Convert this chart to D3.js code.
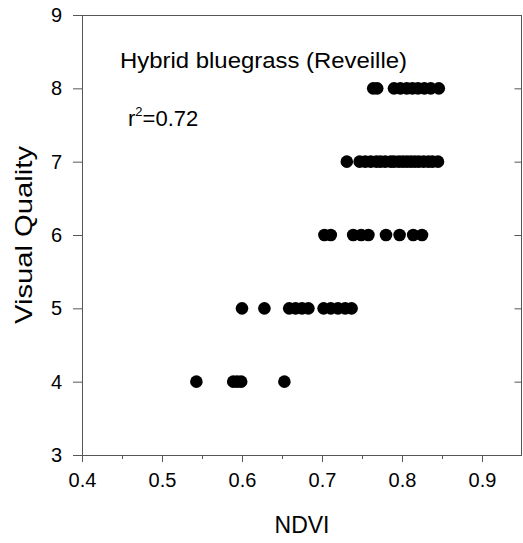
<!DOCTYPE html>
<html>
<head>
<meta charset="utf-8">
<script src="https://cdn.jsdelivr.net/npm/d3@7"></script>
<style>
  body { margin: 0; background: #fff; }
  svg text { font-family: "Liberation Sans", Arial, sans-serif; fill: #000; }
</style>
</head>
<body>
<div id="chart"></div>
<script>

// NDVI readings grouped by visual quality rating
var quality = [4, 5, 6, 7, 8];
var ndviQ4 = [0.543, 0.589, 0.594, 0.599, 0.653];
var ndviQ5 = [0.600, 0.628, 0.659, 0.667, 0.675, 0.683, 0.702, 0.711, 0.720, 0.729, 0.737];
var ndviQ6 = [0.703, 0.711, 0.739, 0.749, 0.758, 0.780, 0.797, 0.814, 0.825];
var ndviQ7 = [0.731, 0.747, 0.754, 0.761, 0.768, 0.773, 0.779, 0.786, 0.790, 0.796,
              0.801, 0.806, 0.811, 0.816, 0.821, 0.827, 0.833, 0.838, 0.845];
var ndviQ8 = [0.764, 0.769, 0.790, 0.798, 0.806, 0.813, 0.820, 0.828, 0.836, 0.846];

var xTicks = [0.4, 0.5, 0.6, 0.7, 0.8, 0.9];
var xMinorTicks = [0.45, 0.55, 0.65, 0.75, 0.85];
var yTicks = [3, 4, 5, 6, 7, 8, 9];

var title = 'Hybrid bluegrass (Reveille)';
var xLabel = 'NDVI';
var yLabel = 'Visual Quality';

var width = 523, height = 543;
var margin = { top: 15, right: 1, bottom: 88, left: 82 };

var points = [];
[ndviQ4, ndviQ5, ndviQ6, ndviQ7, ndviQ8].forEach(function(list, i) {
  list.forEach(function(v) { points.push({ x: v, y: quality[i] }); });
});

var svg = d3.select('#chart').append('svg')
  .attr('width', width)
  .attr('height', height);

var x = d3.scaleLinear().domain([0.4, 0.95]).range([margin.left, width - margin.right]);
var y = d3.scaleLinear().domain([3, 9]).range([height - margin.bottom, margin.top]);

/* ======================================
 * axes: left and bottom carry labels, top and right just frame
 */
var axisColor = '#555';

var gx = svg.append('g')
  .attr('transform', 'translate(0,' + y(3) + ')')
  .call(d3.axisBottom(x).tickValues(xTicks).tickSize(7).tickPadding(11)
    .tickFormat(d3.format('.1f')));

var gxMinor = svg.append('g')
  .attr('transform', 'translate(0,' + y(3) + ')')
  .call(d3.axisBottom(x).tickValues(xMinorTicks).tickSize(4).tickFormat(''));

var gy = svg.append('g')
  .attr('transform', 'translate(' + x(0.4) + ',0)')
  .call(d3.axisLeft(y).tickValues(yTicks).tickSize(9).tickPadding(11)
    .tickFormat(d3.format('d')));

var gr = svg.append('g')
  .attr('transform', 'translate(' + (x(0.95) - 0.5) + ',0)')
  .call(d3.axisLeft(y).tickValues(yTicks).tickSize(-0).tickFormat(''));

gr.selectAll('.tick line').attr('x2', -7);

svg.append('line')
  .attr('x1', x(0.4)).attr('x2', x(0.95))
  .attr('y1', y(9) + 0.5).attr('y2', y(9) + 0.5)
  .attr('stroke', axisColor);

[gx, gxMinor, gy, gr].forEach(function(g) {
  g.selectAll('path.domain').attr('stroke', axisColor);
  g.selectAll('.tick line').attr('stroke', axisColor);
  g.selectAll('.tick text')
    .style('font-family', '"Liberation Sans", Arial, sans-serif')
    .style('font-size', '20px')
    .attr('fill', '#000');
});

// the left axis has no outer tick stub beyond the frame
gy.select('path.domain').attr('d', 'M0.5,' + y(9) + 'V' + y(3));
gx.select('path.domain').attr('d', 'M' + x(0.4) + ',0.5H' + x(0.95));
gxMinor.select('path.domain').remove();
gr.select('path.domain').attr('d', 'M0,' + y(9) + 'V' + y(3));

/* ======================================
 * data points
 */
svg.append('g').selectAll('circle')
  .data(points)
  .enter().append('circle')
  .attr('cx', function(d) { return x(d.x); })
  .attr('cy', function(d) { return y(d.y); })
  .attr('r', 6.3)
  .attr('fill', '#000');

/* ======================================
 * labels
 */
svg.append('text')
  .attr('x', 120).attr('y', 68)
  .attr('textLength', 287)
  .attr('lengthAdjust', 'spacingAndGlyphs')
  .style('font-size', '22px')
  .text(title);

var r2 = svg.append('text')
  .attr('x', 128).attr('y', 126)
  .style('font-size', '22px');
r2.append('tspan').text('r');
r2.append('tspan').attr('dy', -10).style('font-size', '13px').text('2');
r2.append('tspan').attr('dy', 10).text('=0.72');

svg.append('text')
  .attr('x', (x(0.4) + x(0.95)) / 2).attr('y', 533)
  .attr('text-anchor', 'middle')
  .style('font-size', '23px')
  .text(xLabel);

svg.append('text')
  .attr('transform', 'translate(32,' + (y(6)) + ') rotate(-90)')
  .attr('text-anchor', 'middle')
  .attr('textLength', 178)
  .attr('lengthAdjust', 'spacingAndGlyphs')
  .style('font-size', '24px')
  .text(yLabel);

</script>
</body>
</html>
